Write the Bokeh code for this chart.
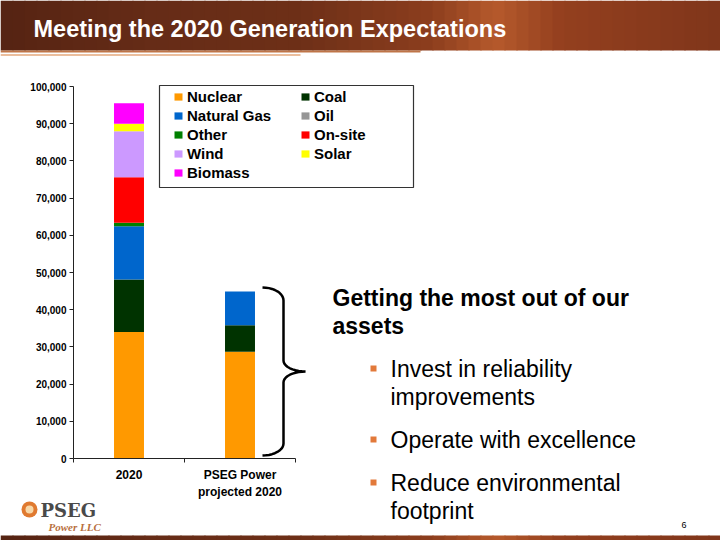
import math
from bokeh.plotting import figure
from bokeh.models import (Range1d, FixedTicker, Legend, LegendItem, BoxAnnotation,
                          Label, PolyAnnotation, NumeralTickFormatter, ColumnDataSource)
from bokeh.embed import file_html
from bokeh.resources import INLINE

# ---------------- data ----------------
categories = ["2020", "PSEG Power\nprojected 2020"]
sources = ["Nuclear", "Coal", "Natural Gas", "Oil", "Other", "On-site", "Wind", "Solar", "Biomass"]
nuclear = [34000, 28700]
coal = [14100, 7100]
natural_gas = [14300, 9100]
oil = [0, 0]
other = [1000, 0]
on_site = [12200, 0]
wind = [12400, 0]
solar = [2000, 0]
biomass = [5500, 0]
y_ticks = [0, 10000, 20000, 30000, 40000, 50000, 60000, 70000, 80000, 90000, 100000]
colors = ["#FF9900", "#003300", "#0066CC", "#969696", "#008000",
          "#FF0000", "#CC99FF", "#FFFF00", "#FF00FF"]
legend_col1 = ["Nuclear", "Natural Gas", "Other", "Wind", "Biomass"]
legend_col2 = ["Coal", "Oil", "On-site", "Solar"]

title_text = "Meeting the 2020 Generation Expectations"
heading_lines = ["Getting the most out of our", "assets"]
bullets = [["Invest in reliability", "improvements"],
           ["Operate with excellence"],
           ["Reduce environmental", "footprint"]]

FONT = "Liberation Sans"
W, H = 720, 540

# chart placement on the canvas (pixels): axis x from 73 to 295, y from 458 (0) to 86 (100k)
AX_L, AX_R, AX_B, AX_T = 73, 295, 458, 86
ncat = len(categories)
ymax = y_ticks[-1]
kx = (AX_R - AX_L) / ncat
ky = (AX_B - AX_T) / ymax

def sx(X):
    return X
def sy(Y):
    return H - Y

def sbox(left, right, top, bottom, **kw):
    return BoxAnnotation(left=sx(left), right=sx(right), top=sy(top), bottom=sy(bottom),
                         left_units="screen", right_units="screen",
                         top_units="screen", bottom_units="screen", **kw)

def text(X, Yc, s, size, color="black", style="normal", font=FONT):
    # Yc: vertical centre of the capitals
    return Label(x=sx(X), y=sy(Yc - 1), x_units="screen", y_units="screen", text=s,
                 text_font=font, text_font_style=style, text_font_size=f"{size}px",
                 text_color=color, text_baseline="middle")

x_pos = [i + 0.5 for i in range(ncat)]
data = dict(x=x_pos, Nuclear=nuclear, Coal=coal, **{"Natural Gas": natural_gas},
            Oil=oil, Other=other, **{"On-site": on_site}, Wind=wind, Solar=solar, Biomass=biomass)
src = ColumnDataSource(data)

p = figure(width=W, height=H,
           x_range=Range1d(-AX_L / kx, ncat + (W - AX_R) / kx),
           y_range=Range1d(-(H - AX_B) / ky, ymax + AX_T / ky),
           output_backend="svg", toolbar_location=None, min_border=0)
p.title.visible = False
p.outline_line_color = None
p.xgrid.visible = False
p.ygrid.visible = False
p.background_fill_color = "white"
p.border_fill_color = "white"

renderers = p.vbar_stack(sources, x="x", width=0.27, fill_color=colors, line_color=None,
                         source=src)
rmap = dict(zip(sources, renderers))

# axes (drawn at fixed data locations so the frame can span the whole canvas)
yax = p.yaxis[0]
yax.fixed_location = 0
yax.bounds = (0, ymax)
yax.ticker = FixedTicker(ticks=y_ticks)
yax.formatter = NumeralTickFormatter(format="0,0")
yax.major_tick_out = 4
yax.major_tick_in = 0
yax.minor_tick_out = 0
yax.minor_tick_in = 0
yax.major_label_standoff = 3
yax.major_label_text_font = FONT
yax.major_label_text_font_style = "bold"
yax.major_label_text_font_size = "10px"
yax.major_label_text_color = "black"
yax.axis_line_color = "#222222"
yax.major_tick_line_color = "#222222"

xax = p.xaxis[0]
xax.fixed_location = 0
xax.bounds = (0, ncat)
xax.ticker = FixedTicker(ticks=x_pos, minor_ticks=list(range(ncat + 1)))
xax.major_label_overrides = {xp: c for xp, c in zip(x_pos, categories)}
xax.major_tick_out = 0
xax.major_tick_in = 0
xax.minor_tick_out = 4
xax.minor_tick_in = 0
xax.major_label_standoff = 5
xax.major_label_text_font = FONT
xax.major_label_text_font_style = "bold"
xax.major_label_text_font_size = "12px"
xax.major_label_text_line_height = 1.25
xax.major_label_text_color = "black"
xax.axis_line_color = "#222222"
xax.minor_tick_line_color = "#222222"

# legends (two columns)
def make_legend(names, left_page, bottom_page):
    return Legend(items=[LegendItem(label=n, renderers=[rmap[n]]) for n in names],
                  location=(sx(left_page), sy(bottom_page)), orientation="vertical",
                  padding=0, margin=0, spacing=1, glyph_width=10, glyph_height=9,
                  label_standoff=4, label_height=18, border_line_color=None,
                  background_fill_alpha=0, label_text_font=FONT,
                  label_text_font_style="bold", label_text_font_size="15px",
                  label_text_color="black")

p.add_layout(make_legend(legend_col1, 173, 181.4))
p.add_layout(make_legend(legend_col2, 300, 162.4))
p.add_layout(sbox(159, 413, 85, 187, fill_alpha=0, line_color="#333333", line_alpha=1,
                  line_width=1.2))

# ---------------- title bar (decoration) ----------------
keys = [(0, (86, 36, 19)), (150, (102, 44, 23)), (300, (110, 48, 24)), (430, (140, 62, 30)),
        (495, (182, 90, 44)), (560, (148, 64, 31)), (720, (128, 54, 27))]
def grad(X):
    for (x0, c0), (x1, c1) in zip(keys[:-1], keys[1:]):
        if x0 <= X <= x1:
            t = (X - x0) / (x1 - x0)
            return "#%02x%02x%02x" % tuple(int(a + (b - a) * t) for a, b in zip(c0, c1))
    return "#%02x%02x%02x" % keys[-1][1]

step = 12
for X in range(0, W, step):
    p.add_layout(sbox(X, X + step + 1, 0, 50, fill_color=grad(X + step / 2),
                      fill_alpha=1, line_color=None))
    p.add_layout(sbox(X, X + step + 1, 535, 541, fill_color=grad(X + step / 2),
                      fill_alpha=1, line_color=None))
for top, bot, col, right, alpha in [(50, 52, "#b86634", 420, 0.9), (53.5, 55.5, "#e2a274", 300, 0.7)]:
    p.add_layout(sbox(0, right, top, bot, fill_color=col, fill_alpha=alpha, line_color=None))

p.add_layout(text(33, 29.5, title_text, 23.5, color="white", style="bold"))

# ---------------- brace ----------------
bx, by = [], []
N = 10
for i in range(N + 1):
    t = math.pi / 2 * i / N
    bx.append(262 + 21 * math.sin(t)); by.append(300 - 13 * math.cos(t))
for i in range(N + 1):
    t = math.pi / 2 * i / N
    bx.append(305 - 22 * math.cos(t)); by.append(360 + 11 * math.sin(t))
for i in range(N + 1):
    t = math.pi / 2 * i / N
    bx.append(305 - 22 * math.sin(t)); by.append(382 - 11 * math.cos(t))
for i in range(N + 1):
    t = math.pi / 2 * i / N
    bx.append(262 + 21 * math.cos(t)); by.append(443 + 12 * math.sin(t))
full_x = bx + bx[::-1]
full_y = by + by[::-1]
p.add_layout(PolyAnnotation(xs=[sx(v) for v in full_x], ys=[sy(v) for v in full_y],
                            xs_units="screen", ys_units="screen",
                            fill_alpha=0, line_color="black", line_alpha=1, line_width=2.5))

# ---------------- right-hand text ----------------
for i, line in enumerate(heading_lines):
    p.add_layout(text(332, 298 + 28 * i, line, 23, style="bold"))

bullet_centres = [369, 440, 483]
for b, lines in enumerate(bullets):
    c = bullet_centres[b]
    p.add_layout(sbox(370, 376, c - 4, c + 2, fill_color="#e2793a", fill_alpha=1,
                      line_color=None))
    for j, line in enumerate(lines):
        p.add_layout(text(390, c + 28.5 * j, line, 23))

# ---------------- logo & page number ----------------
p.add_layout(sbox(21, 37, 501, 517, fill_color="#e07a30", fill_alpha=1, line_color=None,
                  border_radius=8))
p.add_layout(sbox(25, 33, 505, 513, fill_color="#f8d8a8", fill_alpha=1, line_color=None,
                  border_radius=4))
p.add_layout(text(40, 511, "PSEG", 18, color="#4a4a4a", style="bold", font="DejaVu Serif"))
p.add_layout(text(48, 527, "Power LLC", 11, color="#b8703e", style="bold italic",
                  font="Liberation Serif"))
p.add_layout(text(681, 525.5, "6", 9))

open("out.html", "w").write(file_html(p, INLINE))
